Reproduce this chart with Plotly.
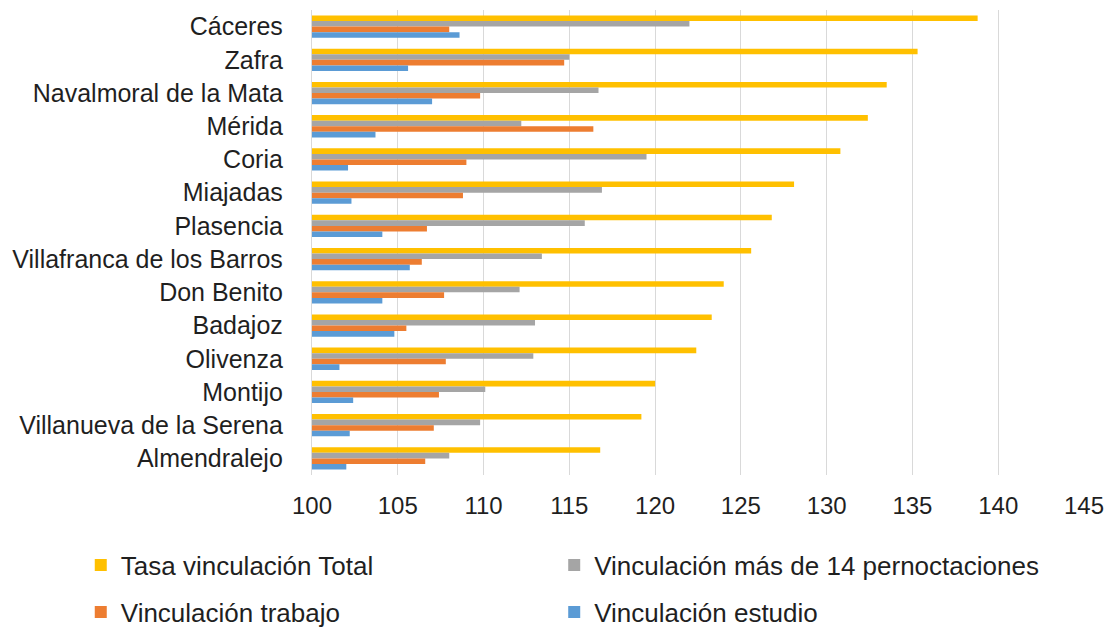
import plotly.graph_objects as go

# Municipalities, top to bottom
municipios = [
    "Cáceres", "Zafra", "Navalmoral de la Mata", "Mérida", "Coria", "Miajadas",
    "Plasencia", "Villafranca de los Barros", "Don Benito", "Badajoz", "Olivenza",
    "Montijo", "Villanueva de la Serena", "Almendralejo",
]

tasa_total = [138.8, 135.3, 133.5, 132.4, 130.8, 128.1, 126.8, 125.6, 124.0, 123.3, 122.4, 120.0, 119.2, 116.8]
mas_14_pernoctaciones = [122.0, 115.0, 116.7, 112.2, 119.5, 116.9, 115.9, 113.4, 112.1, 113.0, 112.9, 110.1, 109.8, 108.0]
trabajo = [108.0, 114.7, 109.8, 116.4, 109.0, 108.8, 106.7, 106.4, 107.7, 105.5, 107.8, 107.4, 107.1, 106.6]
estudio = [108.6, 105.6, 107.0, 103.7, 102.1, 102.3, 104.1, 105.7, 104.1, 104.8, 101.6, 102.4, 102.2, 102.0]

x_ticks = [100, 105, 110, 115, 120, 125, 130, 135, 140, 145]

# name, values, colour, legend id, legend position (container coords)
series = [
    ("Tasa vinculación Total", tasa_total, "#FFC000", "legend", (0.0725, 1 - 565 / 630)),
    ("Vinculación más de 14 pernoctaciones", mas_14_pernoctaciones, "#A5A5A5", "legend2", (0.4975, 1 - 565 / 630)),
    ("Vinculación trabajo", trabajo, "#ED7D31", "legend3", (0.0725, 1 - 612 / 630)),
    ("Vinculación estudio", estudio, "#5B9BD5", "legend4", (0.4975, 1 - 612 / 630)),
]

FONT = "Liberation Sans, Arial, sans-serif"
TEXT = "#1f1f1f"

fig = go.Figure()
for name, vals, color, leg, _ in series:
    fig.add_trace(go.Bar(
        y=municipios, x=vals, name=name, orientation="h",
        marker=dict(color=color, line=dict(width=0)),
        legend=leg, showlegend=True,
    ))

legends = {}
for name, vals, color, leg, (lx, ly) in series:
    legends[leg] = dict(
        x=lx, y=ly, orientation="h", xref="container", yref="container",
        xanchor="left", yanchor="middle",
        font=dict(family=FONT, size=26, color=TEXT),
        bgcolor="rgba(0,0,0,0)", itemclick=False, visible=True,
    )

fig.update_layout(
    width=1114, height=630,
    margin=dict(l=312, r=26, t=10, b=155),
    paper_bgcolor="white", plot_bgcolor="white",
    showlegend=True,
    barmode="group", bargap=0.33, bargroupgap=0,
    font=dict(family=FONT, size=24, color=TEXT),
    xaxis=dict(
        range=[100, 145], tickvals=x_ticks, ticktext=[str(t) for t in x_ticks],
        showgrid=True, gridcolor="#D9D9D9", gridwidth=1.3,
        zeroline=False, showline=False, ticks="",
        ticklabelstandoff=14, fixedrange=True,
        tickfont=dict(family=FONT, size=24, color=TEXT),
    ),
    yaxis=dict(
        autorange="reversed", showgrid=False, showline=True,
        linecolor="#D9D9D9", linewidth=1.3, ticks="",
        ticklabelstandoff=23, fixedrange=True,
        tickfont=dict(family=FONT, size=25, color=TEXT),
    ),
    **legends,
)

fig.write_html("out.html")
